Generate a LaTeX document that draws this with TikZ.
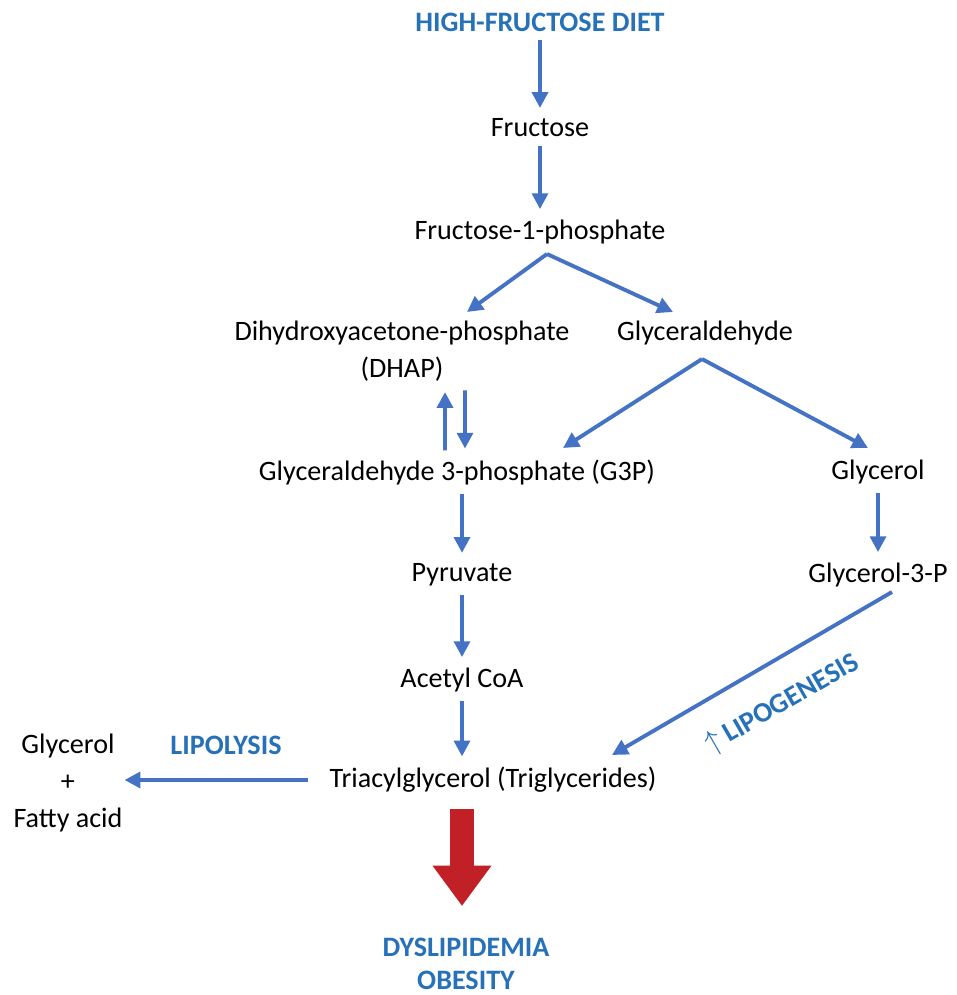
\documentclass[tikz,border=0pt]{standalone}
\usepackage{fontspec}
\setmainfont{Carlito}
\usetikzlibrary{arrows.meta}

\definecolor{arrowblue}{RGB}{68,114,196}
\definecolor{titleblue}{RGB}{38,113,183}
\definecolor{bigred}{RGB}{192,32,38}

\tikzset{
  txt/.style={font=\fontsize{16}{21}\selectfont, inner sep=1pt},
  hl/.style={font=\fontsize{16}{19}\selectfont\bfseries, text=titleblue, inner sep=1pt},
  arr/.style={draw=arrowblue, line width=2.2pt, -{Triangle[length=9pt,width=9pt]}},
  vert/.style={arr, shorten <=4pt, shorten >=5pt},
  bigarr/.style={draw=bigred, line width=14pt, -{Triangle[length=23pt,width=32pt]}}
}

\begin{document}
\begin{tikzpicture}[x=0.02cm, y=-0.02cm]
  \useasboundingbox (0,0) rectangle (957,995);

  % main chain
  \node[hl] (diet) at (540,22) {HIGH-FRUCTOSE DIET};
  \node[txt] (fru) at (540,128) {Fructose};
  \node[txt] (f1p) at (540,232) {Fructose-1-phosphate};
  \node[txt, align=center] (dhap) at (402,351) {Dihydroxyacetone-phosphate\\(DHAP)};
  \node[txt] (gald) at (705,333) {Glyceraldehyde};
  \node[txt] (g3p) at (457,472) {Glyceraldehyde 3-phosphate (G3P)};
  \node[txt] (gol) at (878,472) {Glycerol};
  \node[txt] (pyr) at (462,575) {Pyruvate};
  \node[txt] (g3pr) at (878,575) {Glycerol-3-P};
  \node[txt] (acoa) at (462,680) {Acetyl CoA};
  \node[txt] (tag) at (493,780) {Triacylglycerol (Triglycerides)};
  \node[txt, align=center] (gfa) at (68,783) {Glycerol\\+\\Fatty acid};
  \node[hl] (lys) at (226,745) {LIPOLYSIS};
  \node[hl, rotate=30] (lgen) at (782,704) {$\uparrow$ LIPOGENESIS};
  \node[hl, align=center] (dys) at (466,964) {DYSLIPIDEMIA\\OBESITY};

  % branch points
  \coordinate (f1ptop) at (547,254);
  \coordinate (dhapin) at (467,312);
  \coordinate (galdin) at (673,312);
  \coordinate (galdtop) at (702,359);
  \coordinate (g3pin) at (563,448);
  \coordinate (golin) at (868,448);
  \coordinate (g3prout) at (892,592);
  \coordinate (tagin) at (612,755);

  \draw[vert] (diet) -- (fru);
  \draw[vert] (fru) -- (f1p);
  \draw[arr] (f1ptop) -- (dhapin);
  \draw[arr] (f1ptop) -- (galdin);
  \draw[vert] ([xshift=-0.24cm]g3p.north) -- ([xshift=0.86cm]dhap.south);
  \draw[vert] ([xshift=1.26cm]dhap.south) -- ([xshift=0.16cm]g3p.north);
  \draw[arr] (galdtop) -- (g3pin);
  \draw[arr] (galdtop) -- (golin);
  \draw[vert] (g3p.south -| pyr) -- (pyr);
  \draw[vert] (pyr) -- (acoa);
  \draw[vert] (acoa) -- (acoa |- tag.north);
  \draw[vert] (gol) -- (g3pr);
  \draw[arr] (g3prout) -- (tagin);
  \draw[arr, shorten <=11pt, shorten >=0pt] (tag.west) -- (tag.west -| gfa.east);

  % outcome
  \draw[bigarr, shorten <=8pt, shorten >=17pt] (tag.south -| acoa) -- (dys.north -| acoa);
\end{tikzpicture}
\end{document}
